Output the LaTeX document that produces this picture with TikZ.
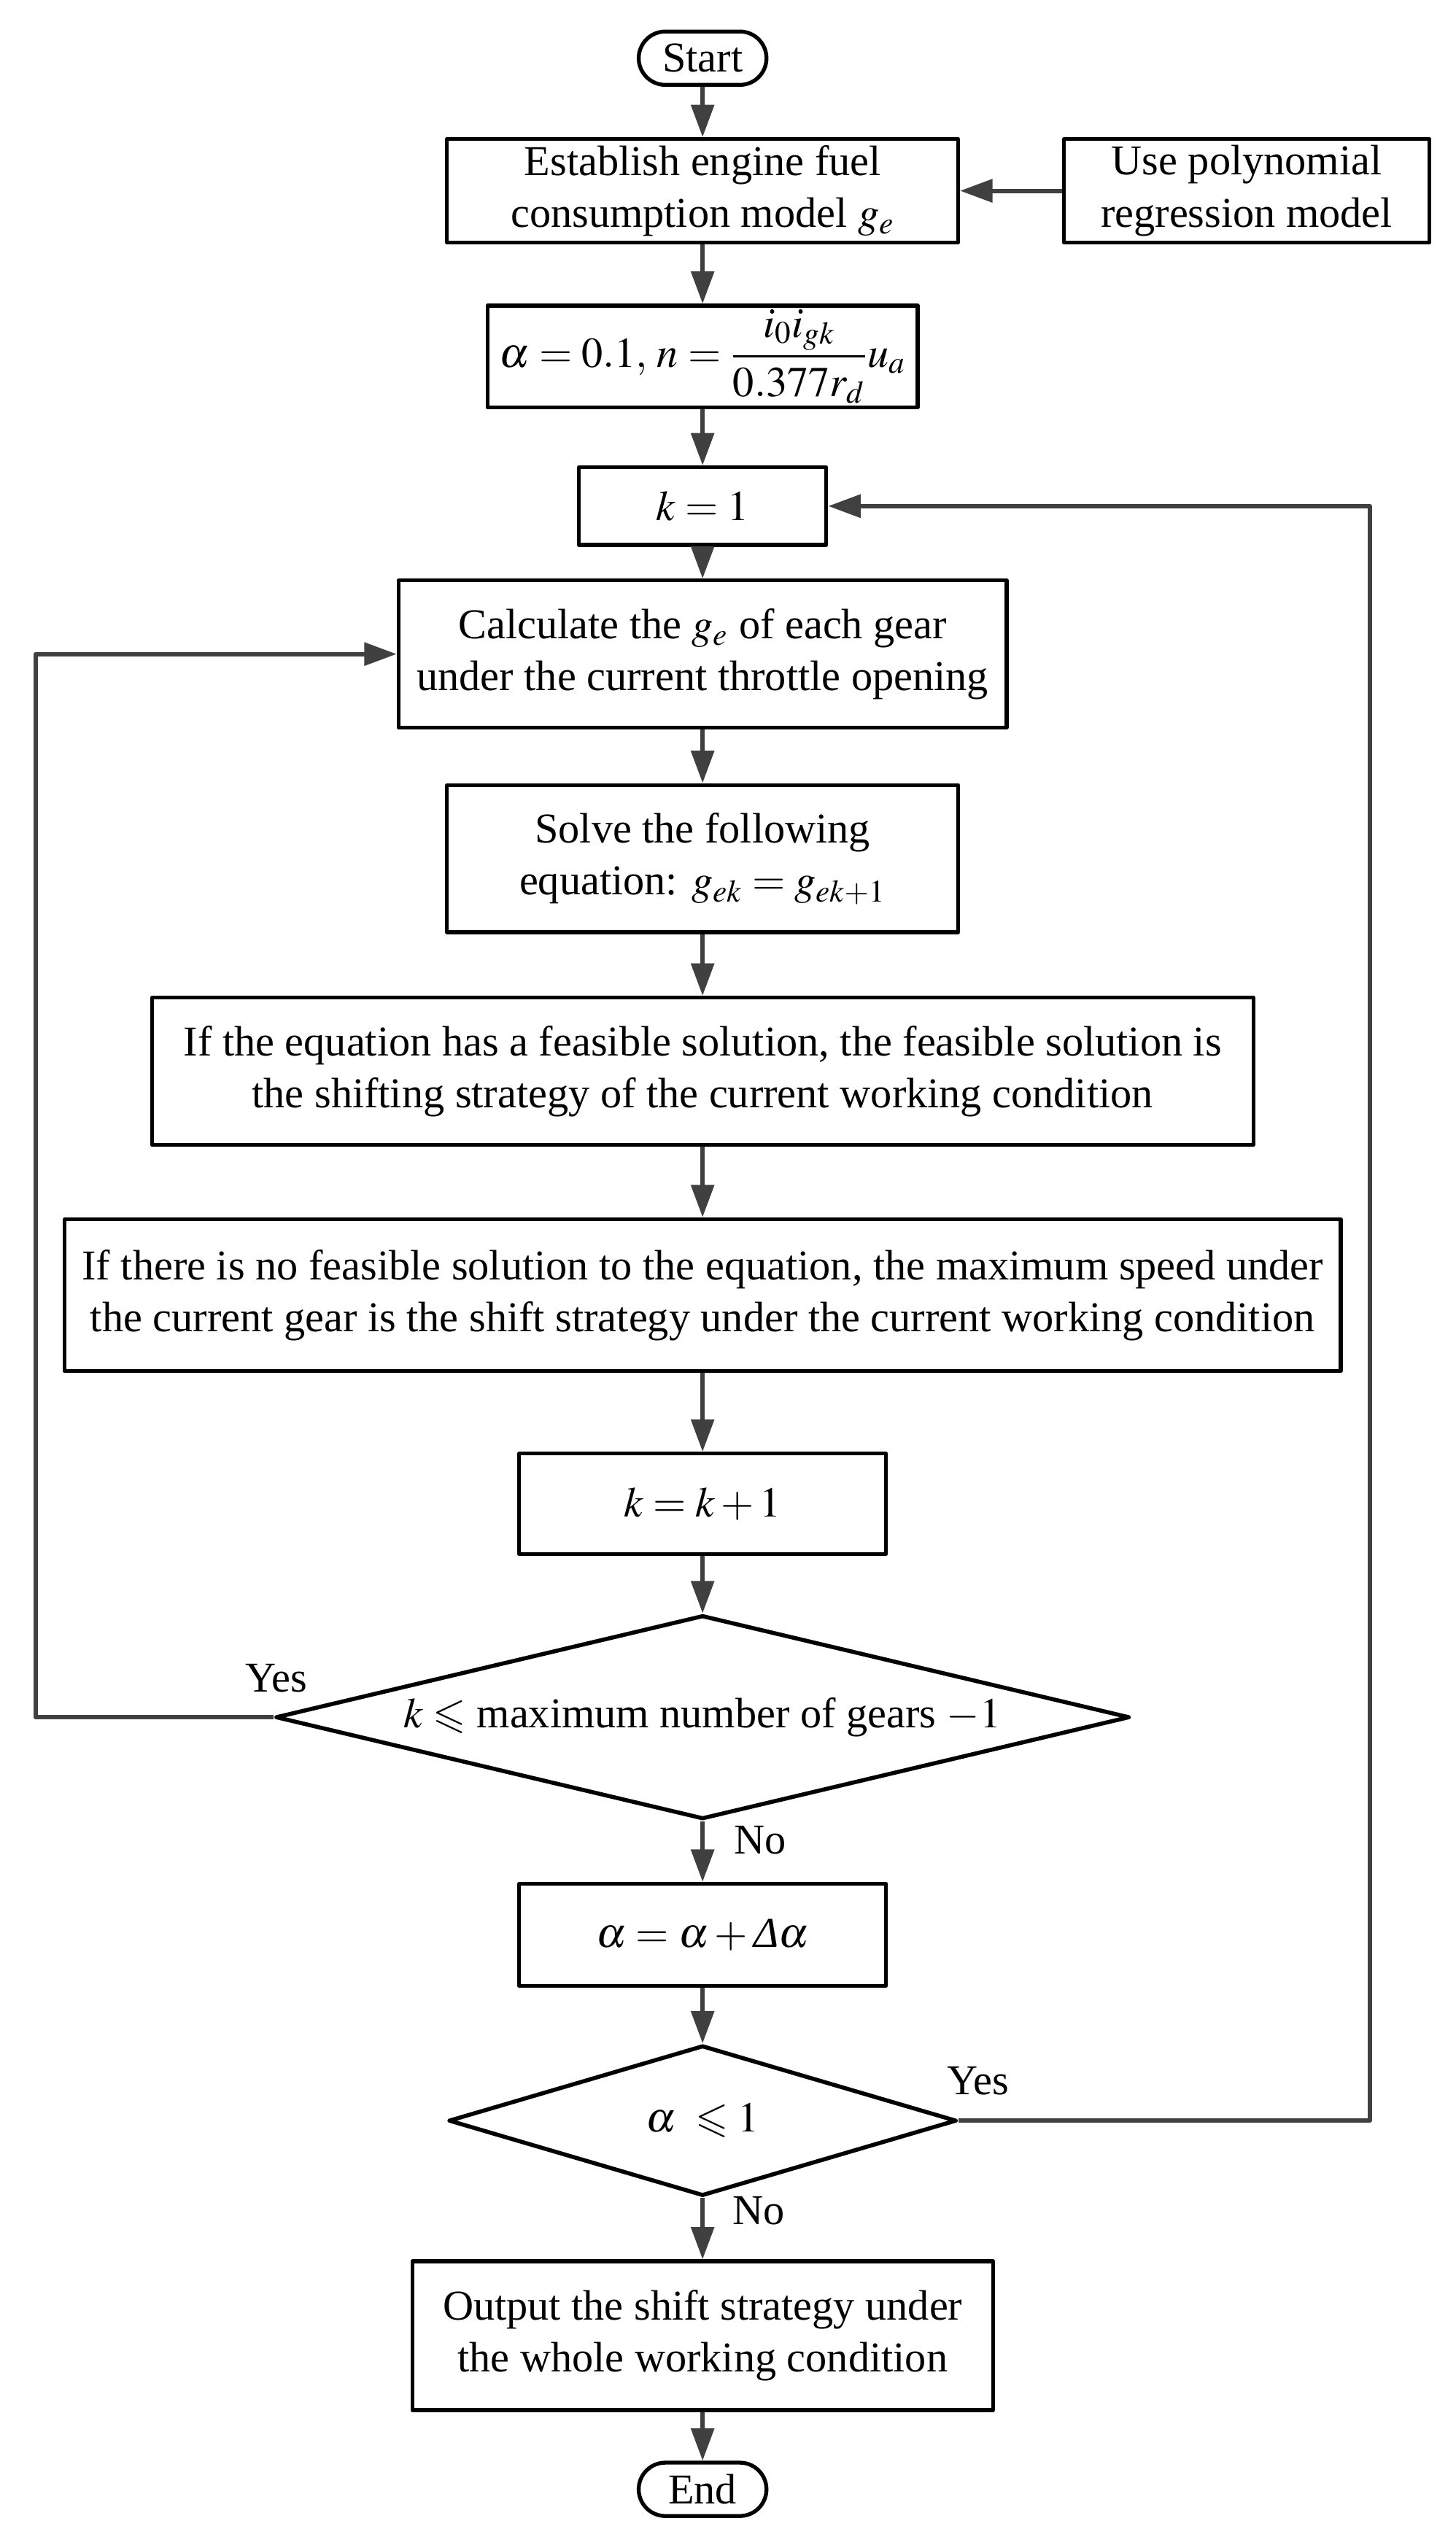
\documentclass[tikz,border=0pt]{standalone}
\usepackage{amsmath}
\usepackage{amssymb}
\usepackage{mathptmx}
\usepackage{fontspec}
\setmainfont{Liberation Serif}
\usetikzlibrary{shapes.geometric,shapes.misc,arrows.meta}
\begin{document}
\begin{tikzpicture}[x=0.025cm,y=-0.025cm,font=\fontsize{18.7}{22.8}\selectfont,line join=round,
	box/.style={draw,line width=1.7pt,align=center,inner sep=0pt},
	term/.style={draw,line width=1.7pt,rounded rectangle,inner sep=0pt,minimum width=1.975cm,minimum height=.825cm},
	test/.style={draw,line width=1.8pt,diamond,inner sep=0pt},
	flow/.style={draw=black!75,line width=1.9pt,-{Triangle[length=5mm,width=3.5mm]}}]
	\useasboundingbox (0,0) rectangle (900,1569);
	\node[term] (start) at (434.5,36) {Start};
	\node[box,minimum width=7.9cm,minimum height=1.6cm] (model) at (434.5,118) {Establish engine fuel\\consumption model $g_e$};
	\node[box,minimum width=5.65cm,minimum height=1.6cm] (poly) at (771,118) {Use polynomial\\regression model};
	\node[box,minimum width=6.65cm,minimum height=1.575cm] (init) at (434.5,220.5) {$\alpha=0.1,\,n=\dfrac{i_0i_{gk}}{0.377r_d}u_a$};
	\node[box,minimum width=3.825cm,minimum height=1.2cm] (kone) at (434.5,313) {$k=1$};
	\node[box,minimum width=9.4cm,minimum height=2.275cm] (calc) at (434.5,404.5) {Calculate the $g_e$ of each gear\\under the current throttle opening};
	\node[box,minimum width=7.9cm,minimum height=2.275cm] (solve) at (434.5,531) {Solve the following\\equation: $g_{ek}=g_{ek+1}$};
	\node[box,minimum width=17.025cm,minimum height=2.275cm] (feas) at (434.5,662.5) {If the equation has a feasible solution, the feasible solution is\\the shifting strategy of the current working condition};
	\node[box,minimum width=19.725cm,minimum height=2.35cm] (nofeas) at (434.5,801) {If there is no feasible solution to the equation, the maximum speed under\\the current gear is the shift strategy under the current working condition};
	\node[box,minimum width=5.675cm,minimum height=1.55cm] (knext) at (434.5,930) {$k=k+1$};
	\node[test,aspect=4.2,minimum width=13.2cm,minimum height=3.15cm] (gears) at (434.5,1062) {$k\leqslant$ maximum number of gears $-1$};
	\node[box,minimum width=5.675cm,minimum height=1.575cm] (anext) at (434.5,1196.5) {$\alpha=\alpha+\text{\itshape Δ}\alpha$};
	\node[test,aspect=3.4,minimum width=7.85cm,minimum height=2.325cm] (amax) at (434.5,1311.5) {$\alpha\;\leqslant 1$};
	\node[box,minimum width=8.975cm,minimum height=2.3cm] (out) at (434.5,1444.5) {Output the shift strategy under\\the whole working condition};
	\node[term] (end) at (434.5,1539.5) {End};
	\coordinate (lft) at (22,0);
	\coordinate (rgt) at (847,0);
	\draw[flow] (start)--(model);
	\draw[flow] (poly)--(model);
	\draw[flow] (model)--(init);
	\draw[flow] (init)--(kone);
	\draw[flow] (kone)--(calc);
	\draw[flow] (calc)--(solve);
	\draw[flow] (solve)--(feas);
	\draw[flow] (feas)--(nofeas);
	\draw[flow] (nofeas)--(knext);
	\draw[flow] (knext)--(gears);
	\draw[flow] (gears)--(anext);
	\draw[flow] (anext)--(amax);
	\draw[flow] (amax)--(out);
	\draw[flow] (out)--(end);
	\draw[flow] (gears.west)--(gears.west-|lft)--(calc.west-|lft)--(calc.west);
	\draw[flow] (amax.east)--(amax.east-|rgt)--(kone.east-|rgt)--(kone.east);
	\node (yes1) at (171,1038) {Yes};
	\node (no1) at (470,1138) {No};
	\node (yes2) at (605,1287) {Yes};
	\node (no2) at (469,1367) {No};
\end{tikzpicture}
\end{document}
